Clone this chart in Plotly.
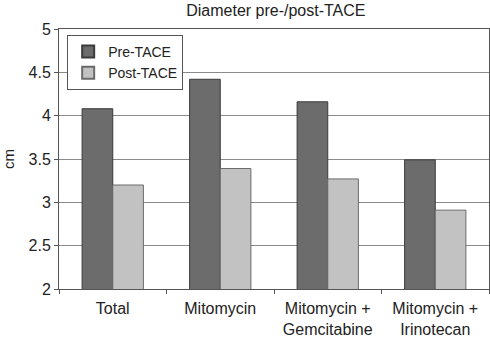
import plotly.graph_objects as go

categories = ["Total", "Mitomycin", "Mitomycin +<br>Gemcitabine", "Mitomycin +<br>Irinotecan"]
pre_tace = [4.08, 4.42, 4.16, 3.49]
post_tace = [3.20, 3.39, 3.27, 2.91]
y_ticks = [2, 2.5, 3, 3.5, 4, 4.5, 5]
y_ticklabels = ["2", "2.5", "3", "3.5", "4", "4.5", "5"]

font = "Liberation Sans, Arial, sans-serif"

fig = go.Figure()
fig.add_trace(go.Bar(name="Pre-TACE", x=categories, y=pre_tace,
                     marker=dict(color="#6c6c6c", line=dict(color="#3a3a3a", width=1))))
fig.add_trace(go.Bar(name="Post-TACE", x=categories, y=post_tace,
                     marker=dict(color="#c2c2c2", line=dict(color="#6a6a6a", width=1))))

fig.update_layout(
    width=490, height=337,
    margin=dict(l=59, r=1, t=29, b=48, autoexpand=False),
    paper_bgcolor="white", plot_bgcolor="white",
    barmode="group", bargap=0.43, bargroupgap=0,
    font=dict(family=font, size=16, color="#222"),
    title=dict(text="Diameter pre-/post-TACE", x=0.563, xanchor="center",
               y=0.968, yanchor="middle", font=dict(size=16, color="#222")),
    legend=dict(x=0.019, y=0.977, xanchor="left", yanchor="top",
                bgcolor="white", bordercolor="#555", borderwidth=1,
                font=dict(size=14), tracegroupgap=0, itemwidth=30,
                itemsizing="constant"),
    showlegend=True,
)
fig.update_xaxes(showline=True, linecolor="#555", linewidth=1, mirror=True,
                 ticks="outside", tickson="boundaries", ticklen=4, tickcolor="#555",
                 showgrid=False, automargin=False, ticklabelstandoff=5,
                 tickfont=dict(size=16, color="#222"))
fig.update_yaxes(range=[2, 5], tickvals=y_ticks, ticktext=y_ticklabels,
                 showline=True, linecolor="#555", linewidth=1, mirror=True,
                 ticks="outside", ticklen=4, tickcolor="#555",
                 showgrid=True, gridcolor="#8a8a8a", gridwidth=1, automargin=False,
                 tickfont=dict(size=16, color="#222"),
                 title=dict(text="cm", font=dict(size=15, color="#222"), standoff=12))

fig.write_html("out.html", config={"displayModeBar": False},
               post_script="document.body.style.margin='0';document.body.style.overflow='hidden';")
